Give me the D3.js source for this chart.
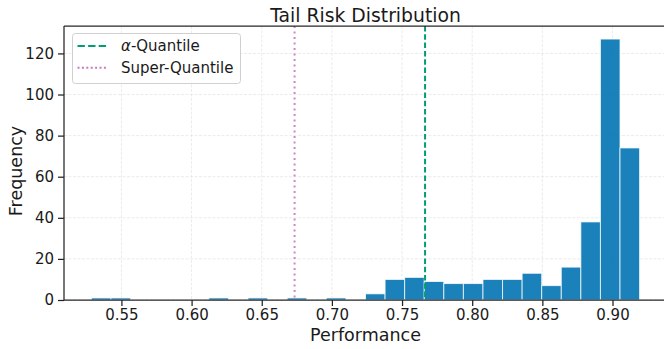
<!DOCTYPE html>
<html>
<head>
<meta charset="utf-8">
<script src="https://cdn.jsdelivr.net/npm/d3@7"></script>
<style>
  html, body { margin: 0; padding: 0; background: #fff; }
  svg { display: block; font-family: "DejaVu Sans", sans-serif; }
</style>
</head>
<body>
<svg id="chart" width="664" height="349"></svg>
<script>
// ---- data ----
const dataMin = 0.5286;
const dataMax = 0.9193;
const counts = [1, 1, 0, 0, 0, 0, 1, 0, 1, 0, 1, 0, 1, 0, 3, 10, 11, 9, 8, 8, 10, 10, 13, 7, 16, 38, 127, 74];
const xTicks = [0.55, 0.60, 0.65, 0.70, 0.75, 0.80, 0.85, 0.90];
const yTicks = [0, 20, 40, 60, 80, 100, 120];
const alphaQuantile = 0.7664;
const superQuantile = 0.6734;
const legendLabels = ["α-Quantile", "Super-Quantile"];

// ---- layout ----
const svg = d3.select("#chart");
const pL = 64, pR = 667, pT = 26, pB = 300;
const nb = counts.length;
const bw = (dataMax - dataMin) / nb;
const bins = counts.map((c, i) => ({ x0: dataMin + i * bw, x1: dataMin + (i + 1) * bw, n: c }));
const pad = (dataMax - dataMin) * 0.05;
const x = d3.scaleLinear().domain([dataMin - pad, dataMax + pad]).range([pL, pR]);
const yMax = d3.max(counts) * 1.05;
const y = d3.scaleLinear().domain([0, yMax]).range([pB, pT]);

// grid
const grid = svg.append("g");
grid.selectAll("line.gx").data(xTicks).join("line")
  .attr("x1", d => x(d)).attr("x2", d => x(d)).attr("y1", pT).attr("y2", pB)
  .attr("stroke", "#e6e6e6").attr("stroke-width", 0.8).attr("stroke-dasharray", "3,1.5");
grid.selectAll("line.gy").data(yTicks).join("line")
  .attr("x1", pL).attr("x2", pR).attr("y1", d => y(d)).attr("y2", d => y(d))
  .attr("stroke", "#e6e6e6").attr("stroke-width", 0.8).attr("stroke-dasharray", "3,1.5");

// bars
svg.append("g").selectAll("rect").data(bins.filter(b => b.n > 0)).join("rect")
  .attr("x", d => x(d.x0)).attr("width", d => x(d.x1) - x(d.x0))
  .attr("y", d => y(d.n)).attr("height", d => y(0) - y(d.n))
  .attr("fill", "#0173B2").attr("fill-opacity", 0.9)
  .attr("stroke", "#ffffff").attr("stroke-opacity", 0.75).attr("stroke-width", 1);

// vertical lines
svg.append("line")
  .attr("x1", x(alphaQuantile)).attr("x2", x(alphaQuantile)).attr("y1", pT).attr("y2", pB)
  .attr("stroke", "#029E73").attr("stroke-width", 2).attr("stroke-dasharray", "5.5,2.8");
svg.append("line")
  .attr("x1", x(superQuantile)).attr("x2", x(superQuantile)).attr("y1", pT).attr("y2", pB)
  .attr("stroke", "#CC78BC").attr("stroke-opacity", 0.9).attr("stroke-width", 2).attr("stroke-dasharray", "2,3.5");

// axes
const xAxis = d3.axisBottom(x).tickValues(xTicks).tickFormat(d3.format(".2f")).tickSizeOuter(0).tickSize(6).tickPadding(4);
const yAxis = d3.axisLeft(y).tickValues(yTicks).tickFormat(d3.format("d")).tickSizeOuter(0).tickSize(6).tickPadding(4);
const gx = svg.append("g").attr("transform", `translate(0,${pB})`).call(xAxis);
const gy = svg.append("g").attr("transform", `translate(${pL},0)`).call(yAxis);
[gx, gy].forEach(g => {
  g.select(".domain").remove();
  g.selectAll(".tick line").attr("stroke", "#222").attr("stroke-width", 1.25);
  g.selectAll(".tick text").attr("fill", "#1a1a1a").attr("font-size", "15px").attr("font-family", "DejaVu Sans");
});
gx.selectAll(".tick text").attr("dy", "0.75em").attr("y", 9);

// spines
const spine = svg.append("g").attr("stroke", "#262626").attr("stroke-width", 1.25);
spine.append("line").attr("x1", pL).attr("x2", pL).attr("y1", pT).attr("y2", pB);
spine.append("line").attr("x1", pL).attr("x2", pR).attr("y1", pB).attr("y2", pB);
spine.append("line").attr("x1", pL).attr("x2", pR).attr("y1", pT).attr("y2", pT);

// title & labels
svg.append("text").attr("x", (pL + pR) / 2).attr("y", 22).attr("text-anchor", "middle")
  .attr("font-size", "18.8px").attr("fill", "#1a1a1a").text("Tail Risk Distribution");
svg.append("text").attr("x", (pL + pR) / 2).attr("y", 341).attr("text-anchor", "middle")
  .attr("font-size", "17.5px").attr("fill", "#1a1a1a").text("Performance");
svg.append("text").attr("transform", `translate(22,171) rotate(-90)`).attr("text-anchor", "middle")
  .attr("font-size", "17.5px").attr("fill", "#1a1a1a").text("Frequency");

// legend
const lg = svg.append("g");
lg.append("rect").attr("x", 72.5).attr("y", 33.5).attr("width", 168).attr("height", 50).attr("rx", 3)
  .attr("fill", "#fff").attr("fill-opacity", 0.85).attr("stroke", "#d0d0d0").attr("stroke-width", 1);
const styles = [
  { color: "#029E73", dash: "7.4,3.2" },
  { color: "#CC78BC", dash: "2,2.4" }
];
legendLabels.forEach((lab, i) => {
  const cy = 46 + i * 21.7;
  lg.append("line").attr("x1", 77.5).attr("x2", 107.5).attr("y1", cy).attr("y2", cy)
    .attr("stroke", styles[i].color).attr("stroke-width", 2).attr("stroke-dasharray", styles[i].dash);
  const t = lg.append("text").attr("x", 121).attr("y", cy + 5.3).attr("font-size", "15px").attr("fill", "#1a1a1a");
  if (i === 0) {
    t.append("tspan").attr("font-style", "italic").text("α");
    t.append("tspan").text("-Quantile");
  } else {
    t.text(lab);
  }
});
</script>
</body>
</html>
